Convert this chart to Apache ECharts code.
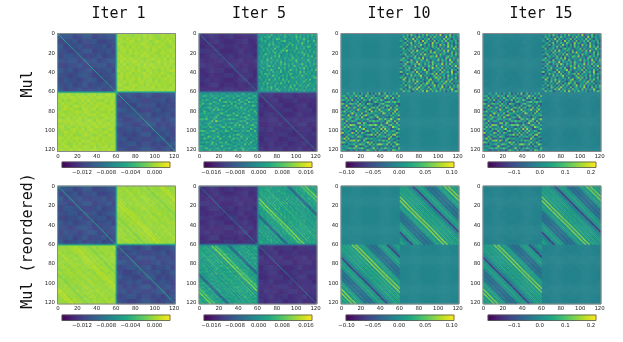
<!DOCTYPE html>
<html>
<head>
<meta charset="utf-8">
<style>
  html, body { margin: 0; padding: 0; background: #fff; }
  #chart { width: 623px; height: 342px; }
</style>
<script src="https://cdn.jsdelivr.net/npm/echarts@6/dist/echarts.min.js"></script>
</head>
<body>
<div id="chart"></div>
<script>
const iterTitles = ['Iter 1', 'Iter 5', 'Iter 10', 'Iter 15']
const rowTitles = ['Mul', 'Mul (reordered)']

// colour bar ranges and tick labels
const barRanges = [[-0.0153, 0.00255], [-0.0184, 0.018], [-0.101, 0.1045], [-0.2016, 0.2195]]
const barTicks = [
  [-0.012, -0.008, -0.004, 0],
  [-0.016, -0.008, 0, 0.008, 0.016],
  [-0.1, -0.05, 0, 0.05, 0.1],
  [-0.1, 0, 0.1, 0.2]
]
const barDigits = [3, 3, 2, 1]

// what the digits 0-9 in the grids below stand for, per column
const stripeLevels = [
  [-0.0024, -0.0018, -0.0013, -0.0009, -0.0005, -0.0001, 0.0002, 0.0005, 0.0008, 0.0012],
  [-0.0085, -0.0062, -0.004, -0.002, 0, 0.0018, 0.0038, 0.0062, 0.0088, 0.0125],
  [-0.07, -0.052, -0.036, -0.02, -0.008, 0.005, 0.02, 0.036, 0.055, 0.078],
  [-0.14, -0.105, -0.072, -0.04, -0.016, 0.01, 0.04, 0.072, 0.11, 0.156]
]
const speckleLevels = [
  [-0.002, -0.0016, -0.0012, -0.0008, -0.0005, -0.0002, 0.0001, 0.0004, 0.0007, 0.0011],
  [-0.0065, -0.0048, -0.0032, -0.0015, 0, 0.0016, 0.0034, 0.0056, 0.0082, 0.012],
  [-0.066, -0.05, -0.034, -0.019, -0.006, 0.006, 0.02, 0.036, 0.055, 0.076],
  [-0.13, -0.1, -0.07, -0.038, -0.014, 0.012, 0.04, 0.072, 0.11, 0.152]
]
const diagLevels = [
  [-0.0134, -0.0128, -0.0122, -0.0116, -0.011, -0.0104, -0.0098, -0.0092, -0.0086, -0.008],
  [-0.0158, -0.0151, -0.0144, -0.0137, -0.013, -0.0123, -0.0116, -0.0109, -0.0102, -0.0095],
  [-0.0125, -0.0115, -0.0105, -0.0095, -0.0085, -0.0075, -0.0065, -0.0055, -0.0045, -0.0035],
  [-0.0235, -0.0215, -0.0195, -0.0175, -0.0155, -0.0135, -0.0115, -0.0095, -0.0075, -0.0055]
]
const mainDiagonal = [-0.0045, -0.0035, -0.006, -0.012]
const crossLight = [-0.0075, -0.007, null, null]
const crossDark = [-0.0035, -0.002, null, null]
const stripeNoise = [0.55, 0.35, 0.08, 0.08]

// off-diagonal block of the top row, estimated digits
const speckleIter1 = [
  '55655465575654576566', '66475657465765465756', '56657746566457656675', '75466565775646575466',
  '57564756467565756547', '46757565656477465675', '65647576575664576566', '57565465767557465757',
  '66757656546675657465', '47565775656546756576', '65746567475765647565', '56575646566576575746',
  '75656757547656465677', '46567465675756576546', '67575656467565745765', '56466757565746567566',
  '65757546756657465675', '76546675647565756547', '55675746565674656576', '66547565756546575665'
]
const speckleIter5 = [
  '545364753456374564573645364756', '364758346463575346485735463645',
  '573465364875463546374658453563', '465735463546784536457346375484',
  '354646573465354673546485363546', '646358476354635748365473546457',
  '473546354763548346573546487353', '356473648354673546384657354646',
  '547365473546859364735463547364', '463547368457346353647584635475',
  '354864536473546475363548473546', '647354657483546357465346375834',
  '536473835465374638546473546457', '465385463746354574683546385463',
  '374654736548463536475354647354', '546473546357384647354685436475',
  '463568473546463735846354736543', '357463546384573546463758463546',
  '645374863547463586473546354738', '473546374658354735463847356464',
  '364857346463546486354735746354', '546473584635737463546485364673',
  '735463546473546358473646354578', '463648357463847354635463748354',
  '354735463546573846473558463546', '647384635748463546375463547365',
  '536463547354646374835746384654', '465375846463573584635464735463',
  '374654735846354647385463546374', '546473546385463746354738463545'
]
const speckleLate = [
  '463728451637284563729146382546', '374615273846351728463519274635',
  '528463917352648173546283741653', '641735284619373528164738256471',
  '357248163752864193752641835274', '463817526394617283519372846153',
  '725146382741536284716352947381', '381647253168475236481725363946',
  '546372819453762813647281935462', '273518464637152849361574628173',
  '648253716382946153728463157284', '315746382517362874916325847361',
  '482631574829153646273518462735', '756318246375284163582746193528',
  '163847529164637285341726358146', '538216473952746183564917283645',
  '274653181463528471826354617392', '617382546738216394572816463527',
  '345761283546917253648173528461', '826345719362485137261845739126',
  '153847263815374682917463528374', '461528374692635148273561846253',
  '738264615374281536948172635481', '295173846526347915382641758263',
  '546382719463158273645739281546', '371645283517496382156284637152',
  '628473516283751649273816452738', '453186274936428157364925183647',
  '716352849175362846518273649315', '384671253648195273846361527486'
]

// diagonal blocks, 12 x 12 estimated digits
const textureIter1A = [
  '455345534455', '344534453344', '534453344534', '443345534453',
  '355443345344', '445534453455', '334453345534', '545344534453',
  '443455433445', '354434553344', '445345344534', '534453445343'
]
const textureIter1D = [
  '345434533445', '434543344534', '343354453443', '554433345344',
  '345544534453', '433453445345', '544334553434', '345453344543',
  '434345534453', '453443345534', '345534434345', '443345543453'
]
const textureLate = [
  '454545454545', '545454545454', '455445544554', '544554455445',
  '454545454545', '545454545454', '455445544554', '544554455445',
  '454545454545', '545454545454', '455445544554', '544554455445'
]
const diagTextures = [
  [textureIter1A, textureIter1D],
  [textureIter1D, textureIter1A],
  [textureLate, textureLate],
  [textureLate, textureLate]
]
const speckles = [speckleIter1, speckleIter5, speckleLate, speckleLate]

// reordered row: one digit per stripe of the off-diagonal block, 61 stripes
const stripesIter1 = '5465476546' + '3564575465' + '4653546545' + '2356456457' + '5465786576' + '54653654564'
const stripesIter5 = '6546557456' + '3564356546' + '5364535643' + '1023564536' + '5465' + '786589' + '54653674564'
const stripesLate = '56475646534' + '5102' + '5646574564' + '323423234324' + '56475646' + '89' + '54' + '986' + '467564756'
const stripes = [stripesIter1, stripesIter5, stripesLate, stripesLate]

const viridis = ['#440154', '#482475', '#414487', '#355f8d', '#2a788e', '#21918c', '#22a884', '#44bf70', '#7ad151', '#bddf26', '#fde725']

const cells = Array.from({ length: 122 }, (v, i) => String(i))
const axisLeft = [57.5, 199, 341, 483]
const axisTop = [33.5, 186]
const axisSize = 118
const barLeft = [62, 204, 346, 488]
const barTop = [162, 315]
const barWidth = 108
const barHeight = 5.5
const barCells = Array.from({ length: 108 }, (v, i) => String(i))

function lookup(grid, r, c, size) {
  return Number(grid[Math.floor(r * grid.length / size)][Math.floor(c * grid.length / size)])
}

function cellValue(col, reordered, r, c) {
  const upper = r < 61
  const left = c < 61
  const i = upper ? r : r - 61
  const j = left ? c : c - 61
  const nearCentre = (r === 60 || r === 61) && (c === 60 || c === 61)
  if (nearCentre && crossLight[col] !== null) {
    return mainDiagonal[col]
  }
  if (upper === left) {
    if (i === j) {
      return mainDiagonal[col]
    }
    const onCross = upper ? (r === 60 || c === 60 || r === 0 || c === 0) : (r === 61 || c === 61)
    if (onCross && crossLight[col] !== null) {
      return crossLight[col]
    }
    return diagLevels[col][lookup(diagTextures[col][upper ? 0 : 1], i, j, 61)]
  }
  // the two off-diagonal blocks are transposes of each other
  const a = upper ? i : j
  const b = upper ? j : i
  const onCross = upper ? (r === 60 || c === 61) : (r === 61 || c === 60)
  if (onCross && crossDark[col] !== null) {
    return crossDark[col]
  }
  const speck = speckleLevels[col][lookup(speckles[col], a, b, 61)]
  if (reordered) {
    return stripeLevels[col][Number(stripes[col][(b - a + 61) % 61])] + stripeNoise[col] * speck
  }
  return speck
}

function matrixData(col, reordered) {
  const out = []
  for (let r = 0; r < 122; r++) {
    for (let c = 0; c < 122; c++) {
      out.push([c, r, cellValue(col, reordered, r, c)])
    }
  }
  return out
}

function barData(col) {
  const [lo, hi] = barRanges[col]
  return barCells.map((v, i) => [i, 0, lo + (hi - lo) * (i + 0.5) / barCells.length])
}

function minus(v, digits) {
  const s = Math.abs(v).toFixed(digits)
  return v < -1e-9 ? '\u2212' + s : s
}

const grid = []
const xAxis = []
const yAxis = []
const series = []
const visualMap = []
const graphic = []

iterTitles.forEach((title, col) => {
  visualMap.push({
    show: false,
    min: barRanges[col][0],
    max: barRanges[col][1],
    seriesIndex: [],
    inRange: { color: viridis }
  })
  graphic.push({
    type: 'text',
    x: axisLeft[col] + axisSize / 2 + [2, 1, -1, -1][col],
    y: 14,
    style: { text: title, font: '15px "DejaVu Sans Mono"', fill: '#111', textAlign: 'center', textVerticalAlign: 'middle' }
  })
})

rowTitles.forEach((title, row) => {
  graphic.push({
    type: 'text',
    x: 28,
    y: [84, 241][row],
    rotation: Math.PI / 2,
    style: { text: title, font: '15px "DejaVu Sans Mono"', fill: '#111', textAlign: 'center', textVerticalAlign: 'middle' }
  })
  iterTitles.forEach((t, col) => {
    // the matrix
    grid.push({ left: axisLeft[col], top: axisTop[row], width: axisSize, height: axisSize })
    const g1 = grid.length - 1
    const tickStyle = { length: 2, alignWithLabel: true, lineStyle: { color: '#333', width: 0.6 } }
    const labelStyle = { fontFamily: 'DejaVu Sans', fontSize: 5.4, color: '#222', margin: 2.5, interval: 19 }
    xAxis.push({
      type: 'category', gridIndex: g1, data: cells, position: 'bottom',
      axisLine: { show: false },
      axisTick: { ...tickStyle, interval: 19 },
      axisLabel: labelStyle
    })
    const x1 = xAxis.length - 1
    yAxis.push({
      type: 'category', gridIndex: g1, data: cells, inverse: true,
      axisLine: { show: false },
      axisTick: { ...tickStyle, interval: 19 },
      axisLabel: labelStyle
    })
    const y1 = yAxis.length - 1
    series.push({
      type: 'heatmap', xAxisIndex: x1, yAxisIndex: y1,
      data: matrixData(col, row === 1), progressive: 0, animation: false
    })
    visualMap[col].seriesIndex.push(series.length - 1)
    graphic.push({
      type: 'rect',
      shape: { x: axisLeft[col], y: axisTop[row], width: axisSize, height: axisSize },
      style: { fill: 'none', stroke: '#8a8a8a', lineWidth: 1 },
      z: 10
    })

    // its colour bar
    grid.push({ left: barLeft[col], top: barTop[row], width: barWidth, height: barHeight })
    const g2 = grid.length - 1
    xAxis.push({
      type: 'category', gridIndex: g2, data: barCells,
      axisLine: { show: false }, axisTick: { show: false }, axisLabel: { show: false }
    })
    const x2 = xAxis.length - 1
    xAxis.push({
      type: 'value', gridIndex: g2, position: 'bottom',
      min: barRanges[col][0], max: barRanges[col][1],
      splitLine: { show: false },
      axisLine: { show: false },
      axisTick: { length: 2, customValues: barTicks[col], lineStyle: { color: '#333', width: 0.6 } },
      axisLabel: {
        customValues: barTicks[col], fontFamily: 'DejaVu Sans', fontSize: 5.4, color: '#222', margin: 2.5,
        showMinLabel: true, showMaxLabel: true,
        formatter: v => minus(v, barDigits[col])
      }
    })
    yAxis.push({
      type: 'category', gridIndex: g2, data: ['0'],
      axisLine: { show: false }, axisTick: { show: false }, axisLabel: { show: false }
    })
    const y2 = yAxis.length - 1
    series.push({
      type: 'heatmap', xAxisIndex: x2, yAxisIndex: y2,
      data: barData(col), progressive: 0, animation: false
    })
    visualMap[col].seriesIndex.push(series.length - 1)
    graphic.push({
      type: 'rect',
      shape: { x: barLeft[col], y: barTop[row], width: barWidth, height: barHeight },
      style: { fill: 'none', stroke: '#555', lineWidth: 0.8 },
      z: 10
    })
  })
})

const chart = echarts.init(document.getElementById('chart'), null, { renderer: 'canvas' })
chart.setOption({
  animation: false,
  backgroundColor: '#fff',
  tooltip: { show: false },
  grid,
  xAxis,
  yAxis,
  visualMap,
  series,
  graphic
})
</script>
</body>
</html>
